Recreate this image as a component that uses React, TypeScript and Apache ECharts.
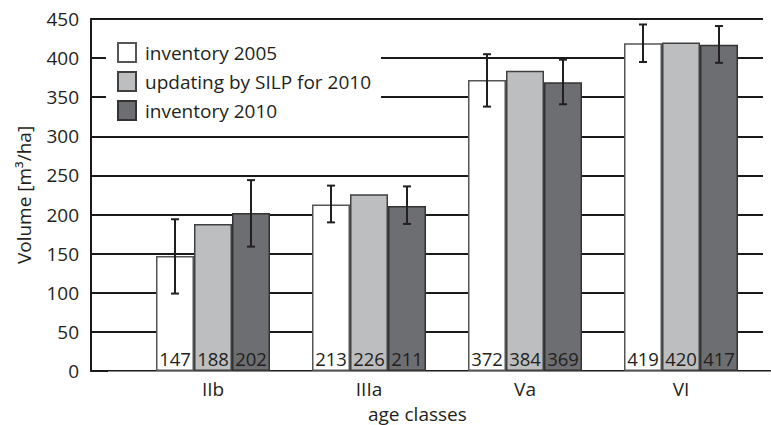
import React, { useEffect, useRef } from "react";
import * as echarts from "echarts";

const categories = ["IIb", "IIIa", "Va", "VI"];
const seriesNames = ["inventory 2005", "updating by SILP for 2010", "inventory 2010"];
const inv2005 = [147, 213, 372, 419];
const silp2010 = [188, 226, 384, 420];
const inv2010 = [202, 211, 369, 417];
const err2005Low = [99, 190, 338, 395];
const err2005High = [194, 237, 405, 443];
const err2010Low = [159, 188, 341, 394];
const err2010High = [244, 236, 398, 441];
const yTicks = { min: 0, max: 450, interval: 50 };

const FONT = "Open Sans";
const TXT = "#231f20";
const BAR_W = 38;
const FS = 19;

export default function App() {
  const ref = useRef<HTMLDivElement>(null);
  useEffect(() => {
    if (!ref.current) return;
    const chart = echarts.init(ref.current, undefined, { renderer: "svg" });

    const errData: number[][] = [];
    categories.forEach((_, i) => {
      errData.push([i, err2005Low[i], err2005High[i], 0]);
      errData.push([i, err2010Low[i], err2010High[i], 2]);
    });

    const splitColors = ["rgba(0,0,0,0)"];
    for (let i = 0; i < 9; i++) splitColors.push("#1a1a1a");

    const barBase = (name: string, data: number[], color: string, border: string) => ({
      type: "bar",
      name,
      data,
      xAxisIndex: 1,
      yAxisIndex: 1,
      barWidth: BAR_W,
      barGap: "0%",
      itemStyle: { color, borderColor: border, borderWidth: 1.5 },
      label: {
        show: true,
        position: "insideBottom",
        distance: 3,
        fontSize: 18.5,
        fontFamily: FONT,
        color: TXT,
      },
      z: 3,
    });

    chart.setOption({
      animation: false,
      backgroundColor: "#ffffff",
      textStyle: { fontFamily: FONT, color: TXT },
      title: {
        text: "age classes",
        left: 368,
        top: 404,
        padding: 0,
        textStyle: { fontSize: FS, fontWeight: "normal", fontFamily: FONT, color: TXT },
      },
      legend: {
        data: seriesNames,
        orient: "vertical",
        left: 106,
        top: 30,
        padding: [12, 10, 12, 11],
        itemWidth: 18,
        itemHeight: 19,
        itemGap: 8,
        backgroundColor: "#ffffff",
        icon: "rect",
        selectedMode: false,
        textStyle: { fontSize: FS, fontFamily: FONT, color: TXT, padding: [0, 0, 0, 4] },
        z: 5,
      },
      grid: [
        { left: 91, right: 8, top: 19, bottom: 54 },
        { left: 135, right: 12, top: 19, bottom: 54 },
        { left: 91, right: 1, top: 19, bottom: 54 },
      ],
      xAxis: [
        { gridIndex: 0, type: "value", min: 0, max: 1, show: false },
        {
          gridIndex: 1,
          type: "category",
          data: categories,
          axisLine: { show: false },
          axisTick: { show: false },
          axisLabel: { fontSize: FS, fontFamily: FONT, color: TXT, margin: 8 },
        },
        {
          gridIndex: 2,
          type: "value",
          position: "top",
          min: 0,
          max: 1,
          axisLine: { show: true, lineStyle: { color: "#1a1a1a", width: 2 } },
          axisTick: { show: false },
          axisLabel: { show: false },
          splitLine: { show: false },
        },
        {
          gridIndex: 2,
          type: "value",
          position: "bottom",
          min: 0,
          max: 1,
          axisLine: { show: true, lineStyle: { color: "#8a8a8a", width: 1 } },
          axisTick: { show: false },
          axisLabel: { show: false },
          splitLine: { show: false },
        },
      ],
      yAxis: [
        {
          gridIndex: 0,
          type: "value",
          min: yTicks.min,
          max: yTicks.max,
          interval: yTicks.interval,
          name: "Volume [m³/ha]",
          nameLocation: "middle",
          nameGap: 58,
          nameTextStyle: { fontSize: FS, fontFamily: FONT, color: TXT },
          axisLine: { show: true, lineStyle: { color: "#1a1a1a", width: 2 } },
          axisTick: { show: true, inside: true, length: 17, lineStyle: { color: "#1a1a1a", width: 2 } },
          axisLabel: { fontSize: FS, fontFamily: FONT, color: TXT, margin: 12 },
          splitLine: { show: true, lineStyle: { color: splitColors, width: 2 } },
        },
        { gridIndex: 1, type: "value", min: yTicks.min, max: yTicks.max, show: false },
        {
          gridIndex: 2,
          type: "value",
          position: "right",
          min: 0,
          max: 1,
          axisLine: { show: true, lineStyle: { color: "#1a1a1a", width: 2 } },
          axisTick: { show: false },
          axisLabel: { show: false },
          splitLine: { show: false },
        },
      ],
      series: [
        barBase(seriesNames[0], inv2005, "#ffffff", "#555555"),
        barBase(seriesNames[1], silp2010, "#bcbec0", "#404040"),
        barBase(seriesNames[2], inv2010, "#6d6e71", "#333333"),
        {
          type: "custom",
          name: "err",
          xAxisIndex: 1,
          yAxisIndex: 1,
          data: errData,
          z: 10,
          renderItem: (params: any, api: any) => {
            const x = api.value(0);
            const lo = api.coord([x, api.value(1)]);
            const hi = api.coord([x, api.value(2)]);
            const k = api.value(3);
            const cx = lo[0] + (k - 1) * BAR_W;
            const cap = 4;
            const style = { stroke: "#231f20", lineWidth: 2 };
            return {
              type: "group",
              children: [
                { type: "line", shape: { x1: cx, y1: lo[1], x2: cx, y2: hi[1] }, style },
                { type: "line", shape: { x1: cx - cap, y1: lo[1], x2: cx + cap, y2: lo[1] }, style },
                { type: "line", shape: { x1: cx - cap, y1: hi[1], x2: cx + cap, y2: hi[1] }, style },
              ],
            };
          },
        },
      ],
    });
    return () => chart.dispose();
  }, []);
  return (
    <div
      ref={ref}
      style={{ position: "absolute", left: 0, top: 0, width: 771, height: 425 }}
    />
  );
}
